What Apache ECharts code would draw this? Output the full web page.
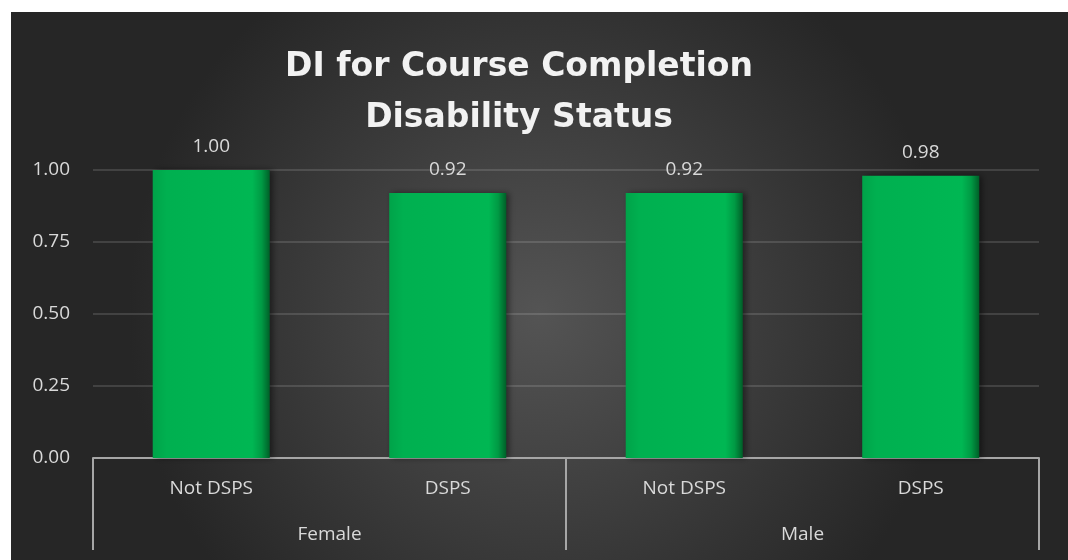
<!DOCTYPE html>
<html>
<head>
<meta charset="utf-8">
<script src="https://cdn.jsdelivr.net/npm/echarts@6/dist/echarts.min.js"></script>
<style>
  html, body { margin: 0; padding: 0; background: #ffffff; }
  #wrap { position: relative; width: 1068px; height: 560px; background: #ffffff; overflow: hidden; }
  #chart { position: absolute; left: 11px; top: 12px; width: 1057px; height: 548px; }
</style>
</head>
<body>
<div id="wrap"><div id="chart"></div></div>
<script>
const titleLines = ['DI for Course Completion', 'Disability Status'];
const categories = ['Not DSPS', 'DSPS', 'Not DSPS', 'DSPS'];
const groups = ['Female', 'Male'];
const values = [1.00, 0.92, 0.92, 0.98];
const yTicks = { min: 0, max: 1, interval: 0.25 };

const chart = echarts.init(document.getElementById('chart'), null, { renderer: 'canvas' });
const font = '"Open Sans", "Liberation Sans", sans-serif';
const labelColor = '#d9d9d9';

const barFill = {
  type: 'linear', x: 0, y: 0, x2: 1, y2: 0,
  colorStops: [
    { offset: 0, color: '#00a349' },
    { offset: 0.12, color: '#00b050' },
    { offset: 0.85, color: '#00b753' },
    { offset: 0.93, color: '#009a44' },
    { offset: 1, color: '#005f28' }
  ]
};

chart.setOption({
  backgroundColor: {
    type: 'radial', x: 0.5, y: 0.55, r: 0.75,
    colorStops: [
      { offset: 0, color: '#545454' },
      { offset: 1, color: '#262626' }
    ]
  },
  animation: false,
  graphic: [{
    type: 'text',
    x: 508,
    y: 30,
    style: {
      text: titleLines.join('\n'),
      fill: '#f2f2f2',
      font: 'bold 33px "DejaVu Sans", sans-serif',
      lineHeight: 51,
      align: 'center',
      verticalAlign: 'top'
    }
  }],
  grid: { left: 82, right: 29, top: 158, bottom: 102, containLabel: false },
  xAxis: [
    {
      type: 'category',
      data: categories,
      axisLine: { show: true, lineStyle: { color: '#a6a6a6', width: 2 } },
      axisTick: { show: false },
      axisLabel: { color: labelColor, fontFamily: font, fontSize: 19, margin: 21 }
    },
    {
      type: 'category',
      data: groups,
      position: 'bottom',
      axisLine: { show: false },
      axisTick: { show: true, length: 92, interval: 0, lineStyle: { color: '#a6a6a6', width: 2 } },
      axisLabel: { color: labelColor, fontFamily: font, fontSize: 19, margin: 67 },
      splitLine: { show: false }
    }
  ],
  yAxis: {
    type: 'value',
    min: yTicks.min, max: yTicks.max, interval: yTicks.interval,
    axisLine: { show: false },
    axisTick: { show: false },
    axisLabel: {
      color: labelColor, fontFamily: font, fontSize: 19, margin: 23,
      formatter: v => v.toFixed(2)
    },
    splitLine: { lineStyle: { color: 'rgba(255,255,255,0.13)', width: 2 } }
  },
  series: [{
    type: 'bar',
    xAxisIndex: 0,
    data: values,
    barWidth: '49.5%',
    itemStyle: {
      color: barFill,
      shadowColor: 'rgba(0,0,0,0.45)', shadowBlur: 6, shadowOffsetX: 3, shadowOffsetY: 0
    },
    label: {
      show: true, position: 'top', distance: 14,
      color: labelColor, fontFamily: font, fontSize: 19,
      formatter: p => p.value.toFixed(2)
    }
  }]
});
</script>
</body>
</html>
